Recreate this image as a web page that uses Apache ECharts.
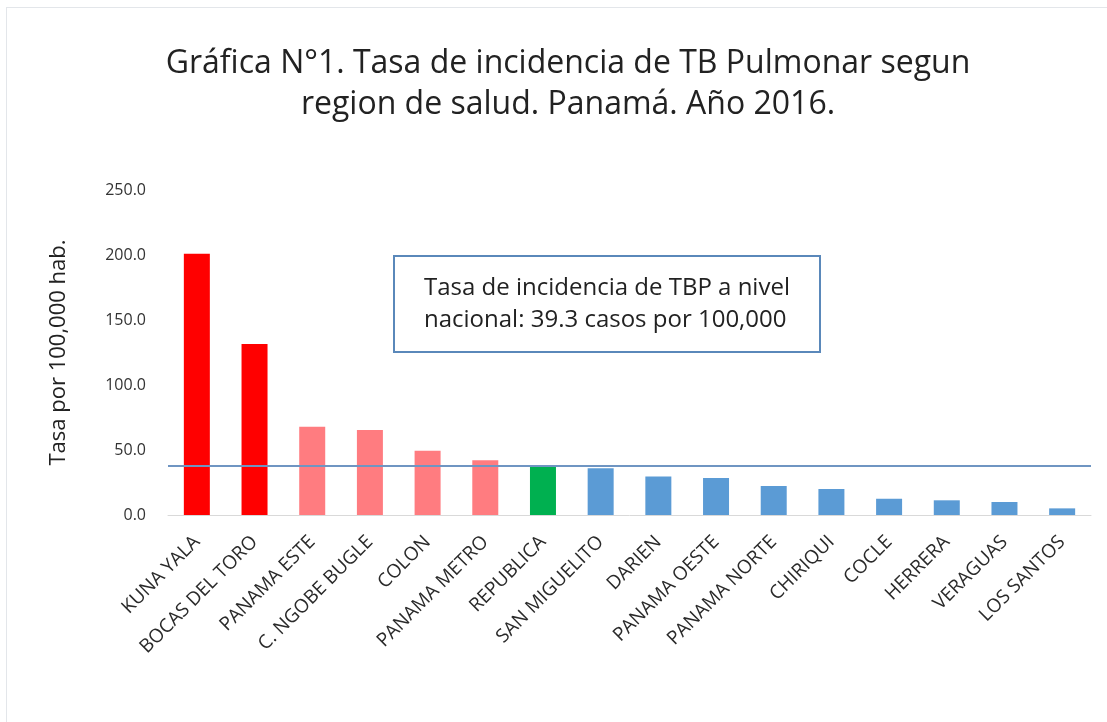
<!DOCTYPE html>
<html>
<head>
<meta charset="utf-8">
<script src="https://cdn.jsdelivr.net/npm/echarts@6/dist/echarts.min.js"></script>
<style>
    html, body { margin: 0; padding: 0; background: #fff; }
    #chart-container { width: 1107px; height: 722px; position: relative; }
    .frame { position: absolute; left: 6px; top: 7px; right: 0; bottom: 0; border-left: 1px solid #e3e6ea; border-top: 1px solid #e3e6ea; pointer-events: none; }
</style>
</head>
<body>
<div id="chart-container"></div>
<div class="frame"></div>
<script>
var regiones = ["KUNA YALA", "BOCAS DEL TORO", "PANAMA ESTE", "C. NGOBE BUGLE", "COLON", "PANAMA METRO", "REPUBLICA", "SAN MIGUELITO", "DARIEN", "PANAMA OESTE", "PANAMA NORTE", "CHIRIQUI", "COCLE", "HERRERA", "VERAGUAS", "LOS SANTOS"];
var tasas = [201.0, 131.5, 67.9, 65.4, 49.5, 42.1, 38.0, 35.9, 29.7, 28.5, 22.3, 20.0, 12.5, 11.3, 10.0, 5.1];
// grupo de color de cada barra: alta, media, nacional, baja
var grupos = ["alta", "alta", "media", "media", "media", "media", "nacional", "baja", "baja", "baja", "baja", "baja", "baja", "baja", "baja", "baja"];
var lineaNacional = 37.8; // altura a la que esta dibujada la linea en la grafica
var yTicks = [0, 50, 100, 150, 200, 250];

var colores = {
    alta: "#ff0000",
    media: "#ff7c80",
    nacional: "#00b050",
    baja: "#5b9bd5",
};

var chartDom = document.getElementById("chart-container");
var myChart = echarts.init(chartDom, null, { renderer: "canvas" });
var fuente = "'Open Sans', 'Noto Sans', sans-serif";

var barData = tasas.map(function (v, i) {
    return { value: v, itemStyle: { color: colores[grupos[i]] } };
});

var option = {
    backgroundColor: "#fff",
    animation: false,
    textStyle: { fontFamily: fuente },
    title: [
        {
            text: "Gráfica N°1. Tasa de incidencia de TB Pulmonar segun\nregion de salud. Panamá. Año 2016.",
            left: 563,
            top: 38,
            textAlign: "center",
            textStyle: {
                fontFamily: fuente,
                fontSize: 32,
                fontWeight: "normal",
                color: "#222",
                lineHeight: 41,
            },
        },
        {
            text: "Tasa de incidencia de TBP a nivel\nnacional: 39.3 casos por 100,000",
            left: 394,
            top: 256,
            padding: [16, 30, 16, 30],
            borderColor: "#5a88ba",
            borderWidth: 2,
            textStyle: {
                fontFamily: fuente,
                fontSize: 24,
                fontWeight: "normal",
                color: "#222",
                lineHeight: 32,
                align: "center",
            },
        },
    ],
    grid: {
        left: 168,
        right: 16,
        top: 190,
        bottom: 207,
        containLabel: false,
    },
    xAxis: {
        type: "category",
        data: regiones,
        axisLine: { lineStyle: { color: "#d9d9d9", width: 1 } },
        axisTick: { show: false },
        axisLabel: {
            interval: 0,
            rotate: 45,
            margin: 24,
            color: "#2a2a2a",
            fontSize: 19,
            fontFamily: fuente,
        },
    },
    yAxis: {
        type: "value",
        min: yTicks[0],
        max: yTicks[yTicks.length - 1],
        interval: yTicks[1] - yTicks[0],
        name: "Tasa por 100,000 hab.",
        nameLocation: "middle",
        nameGap: 98,
        nameTextStyle: { color: "#222", fontSize: 22, fontFamily: fuente },
        axisLine: { show: false },
        axisTick: { show: false },
        splitLine: { show: false },
        axisLabel: {
            color: "#333",
            fontSize: 16,
            margin: 22,
            fontFamily: fuente,
            formatter: function (v) { return v.toFixed(1); },
        },
    },
    series: [
        {
            name: "Tasa",
            type: "bar",
            barWidth: 26,
            data: barData,
            markLine: {
                silent: true,
                symbol: "none",
                label: { show: false },
                lineStyle: { color: "#6f95c2", width: 2, type: "solid" },
                data: [{ yAxis: lineaNacional }],
            },
        },
    ],
};

myChart.setOption(option, true);
</script>
</body>
</html>
